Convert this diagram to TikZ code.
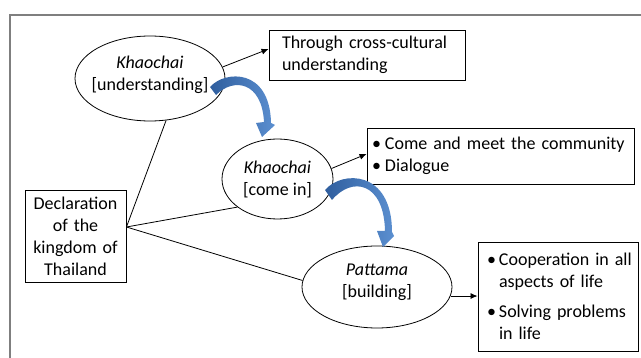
\documentclass[tikz,border=0pt]{standalone}
\usepackage{fontspec}
\setmainfont{Carlito}
\usetikzlibrary{arrows.meta,shapes.geometric}
\definecolor{framegray}{HTML}{7F7F7F}
\definecolor{bluedark}{HTML}{2F5E9E}
\definecolor{bluelight}{HTML}{5B8FD0}
\begin{document}
\begin{tikzpicture}[x=1pt,y=-1pt,
  font=\fontsize{18}{22}\selectfont,
  ell/.style={draw, ellipse, line width=0.8pt, inner sep=0pt},
  etext/.style={align=center, inner sep=0pt},
  box/.style={draw, rectangle, line width=0.9pt, inner xsep=0pt, inner ysep=0pt},
  link/.style={line width=0.8pt},
  arr/.style={line width=0.8pt, -{Latex[length=7pt,width=6pt]}},
  curvarrow/.style={left color=bluedark, right color=bluelight, draw=none}]
\useasboundingbox (0,0) rectangle (641,358);
\draw[framegray, line width=1.3pt] (10,358) -- (10,15) -- (641,15);

% Declaration box
\node[box, minimum width=101pt, minimum height=92pt, text width=101pt, align=center] (decl) at (75.5,236)
  {Declaration\\of the\\kingdom of\\Thailand};

% Ellipses
\node[ell, minimum width=150pt, minimum height=85pt] (e1) at (150,78.5) {};
\node[etext] (t1) at (150,74.5) {\textit{Khaochai}\\{[understanding]}};
\node[ell, minimum width=111pt, minimum height=80pt] (e2) at (277.5,179) {};
\node[etext] (t2) at (277.5,179.5) {\textit{Khaochai}\\{[come in]}};
\node[ell, minimum width=150pt, minimum height=82pt] (e3) at (377,287) {};
\node[etext] (t3) at (377,282.5) {\textit{Pattama}\\{[building]}};

% Right boxes
\node[box, minimum width=196pt, minimum height=50pt, text width=196pt, align=left] (b1) at (367,55)
  {\hspace*{13pt}Through cross-cultural\\\hspace*{13pt}understanding};
\node[box, minimum width=267pt, minimum height=56pt, text width=267pt, align=left] (b2) at (500.5,156)
  {\hspace*{5pt}\makebox[13pt][l]{\textbullet}Come and meet the community\\\hspace*{5pt}\makebox[13pt][l]{\textbullet}Dialogue};
\node[box, minimum width=160pt, minimum height=109pt, text width=160pt, align=left] (b3) at (558,296.5)
  {\hspace*{9pt}\makebox[12pt][l]{\textbullet}Cooperation in all\\\hspace*{21pt}aspects of life\\[8pt]\hspace*{9pt}\makebox[12pt][l]{\textbullet}Solving problems\\\hspace*{21pt}in life};

% Connectors from the declaration box
\coordinate (dp) at ([yshift=9pt]decl.east);
\draw[link] (dp) -- (e1.-69);
\draw[link] (dp) -- (e2.-145);
\draw[link] (dp) -- (e3.175);

% Arrows to the boxes
\draw[arr] (e1.9) -- ([yshift=6pt]b1.west);
\draw[arr] (e2.11) -- ([yshift=2pt]b2.west);
\draw[arr] (e3.-7) -- (e3.-7 -| b3.west);

% Curved blue arrows
\shade[curvarrow] (210,87) .. controls (225,70) and (270,68) .. (271,123) -- (275,125) -- (262,137) -- (256,123) -- (264,122) .. controls (262,82) and (234,77) .. (216,95) -- cycle;
\shade[curvarrow] (325,190) .. controls (342,170) and (392,170) .. (392,232) -- (394,236) -- (383,247) -- (377,231) -- (385,231) .. controls (384,182) and (352,176) .. (332,200) -- cycle;
\end{tikzpicture}
\end{document}
